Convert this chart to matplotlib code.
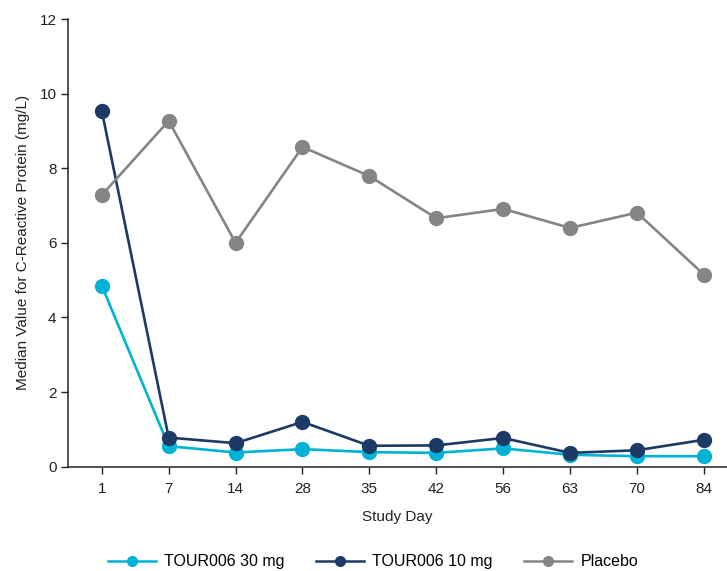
import matplotlib
matplotlib.use("Agg")
import matplotlib.pyplot as plt
from matplotlib.lines import Line2D

plt.rcParams['font.family'] = ['Liberation Sans', 'DejaVu Sans']

days = ["1", "7", "14", "28", "35", "42", "56", "63", "70", "84"]
tour_30mg = [4.85, 0.55, 0.38, 0.47, 0.39, 0.37, 0.49, 0.32, 0.28, 0.28]
tour_10mg = [9.54, 0.78, 0.63, 1.20, 0.56, 0.57, 0.77, 0.37, 0.44, 0.72]
placebo = [7.28, 9.27, 6.00, 8.57, 7.79, 6.66, 6.91, 6.40, 6.81, 5.15]

series_names = ["TOUR006 30 mg", "TOUR006 10 mg", "Placebo"]
colors = ["#00B3D6", "#1B3A66", "#858585"]

fig = plt.figure(figsize=(7.27, 5.71), dpi=100)
ax = fig.add_axes([0.094, 0.1827, 0.906, 0.784])

x = list(range(len(days)))
handles = []
for vals, name, c in zip([tour_30mg, tour_10mg, placebo], series_names, colors):
    ax.plot(x, vals, color=c, lw=1.9, marker='o', markersize=10, label=name,
            solid_joinstyle='round')
    handles.append(Line2D([], [], color=c, lw=1.8, marker='o', markersize=7, label=name))

ax.set_xlim(-0.5, 9.346)
ax.set_ylim(0, 12)
ax.set_yticks([0, 2, 4, 6, 8, 10, 12])
ax.set_xticks(x)
ax.set_xticklabels(days)
ax.tick_params(axis='both', labelsize=11, length=5, width=1, direction='out', colors='#222222', labelcolor='#222222')
ax.tick_params(axis='x', pad=6)
for s in ['top', 'right']:
    ax.spines[s].set_visible(False)
for s in ['left', 'bottom']:
    ax.spines[s].set_linewidth(1.1)
    ax.spines[s].set_color('#222222')

ax.set_ylabel("Median Value for C-Reactive Protein (mg/L)", fontsize=11, color='#222222', labelpad=7)
ax.set_xlabel("Study Day", fontsize=11, color='#222222', labelpad=10)

fig.legend(handles=handles, loc='center', bbox_to_anchor=(0.513, 0.0158), ncol=3, frameon=False,
           fontsize=11.5, handlelength=3.0, columnspacing=2.0, handletextpad=0.5, borderaxespad=0)

fig.savefig("out.png", dpi=100)
